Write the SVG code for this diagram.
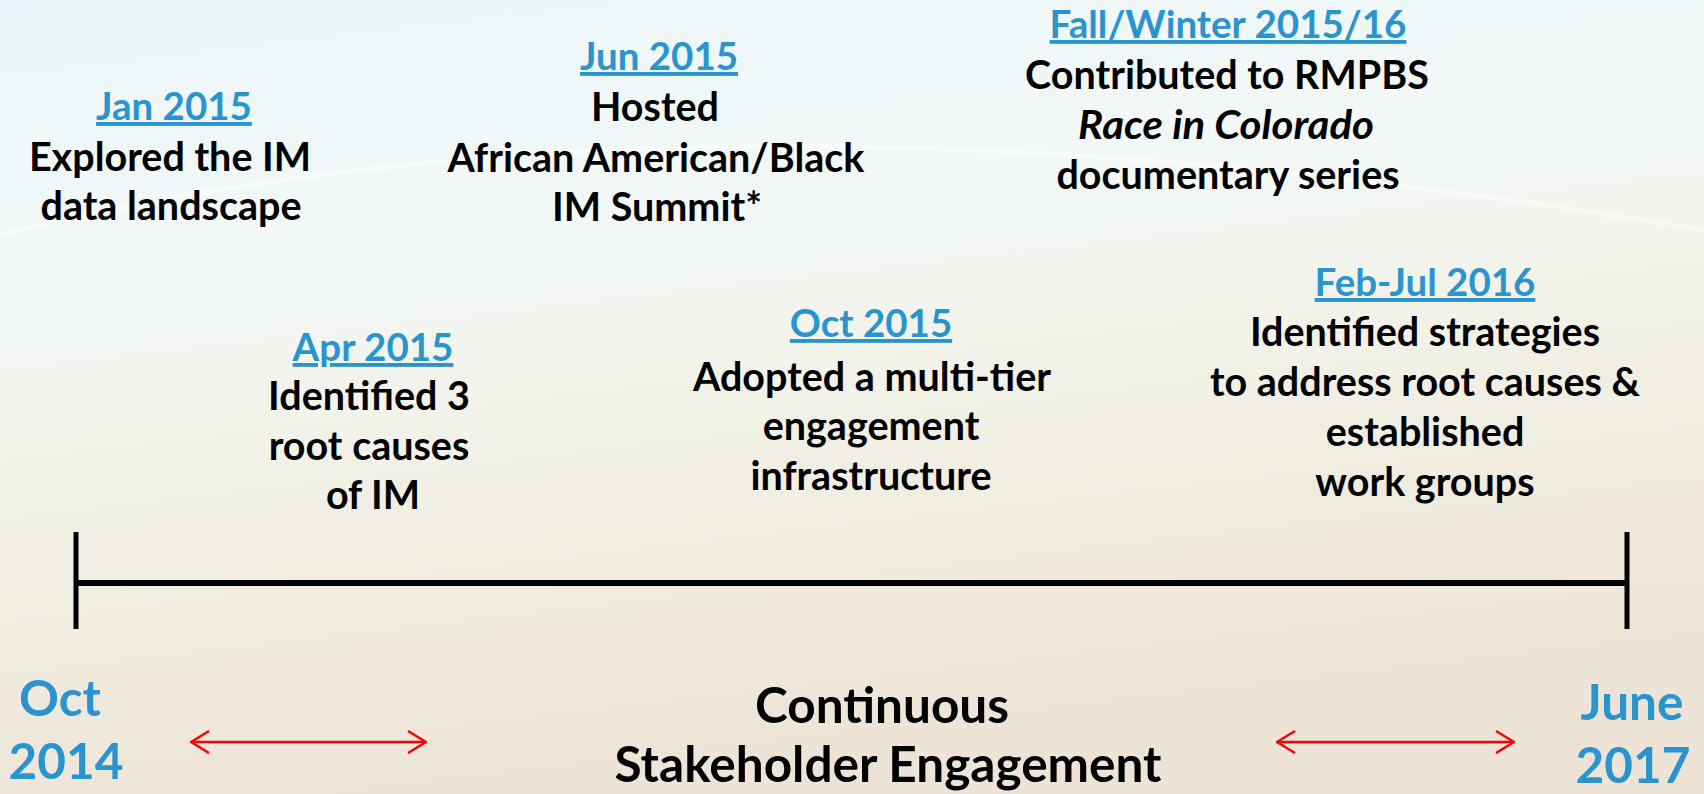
<svg xmlns="http://www.w3.org/2000/svg" width="1704" height="794" viewBox="0 0 1704 794">
  <defs>
    <linearGradient id="bg" x1="0" y1="0" x2="0.25" y2="1">
      <stop offset="0" stop-color="#ECF6FA"/>
      <stop offset="0.35" stop-color="#F3F8F7"/>
      <stop offset="0.6" stop-color="#F2F1E6"/>
      <stop offset="1" stop-color="#EDE4D7"/>
    </linearGradient>
    <marker id="ah" viewBox="0 0 20 24" refX="19" refY="12" markerWidth="20" markerHeight="24" markerUnits="userSpaceOnUse" orient="auto-start-reverse">
      <path d="M1,1 L19,12 L1,23" fill="none" stroke="#FF0000" stroke-width="2.5"/>
    </marker>
    <style>
      .t { font-family: Lato, "Liberation Sans", sans-serif; font-weight: 700; font-size: 39.5px; fill: #000; text-anchor: middle; }
      .d { fill: #2A94CE; text-decoration: underline; font-size: 38.5px; }
      .big { font-family: Lato, "Liberation Sans", sans-serif; font-weight: 700; font-size: 49.5px; text-anchor: middle; }
      .blue { fill: #2A94CE; }
      .axis { stroke: #000; fill: none; }
      .arr { stroke: #FF0000; stroke-width: 2.5; fill: none; marker-start: url(#ah); marker-end: url(#ah); }
    </style>
  </defs>
  <rect width="1704" height="794" fill="url(#bg)"/>
  <path d="M0,235 Q700,60 1704,230" fill="none" stroke="#FFFFFF" stroke-opacity="0.45" stroke-width="5"/>

  <g id="jan2015">
    <text class="t d" x="174" y="120">Jan 2015</text>
    <text class="t" x="170" y="171">Explored the IM</text>
    <text class="t" x="171" y="220">data landscape</text>
  </g>
  <g id="jun2015">
    <text class="t d" x="659" y="70">Jun 2015</text>
    <text class="t" x="655" y="121">Hosted</text>
    <text class="t" x="656" y="172">African American/Black</text>
    <text class="t" x="657" y="221">IM Summit*</text>
  </g>
  <g id="fall2015">
    <text class="t d" x="1228" y="38">Fall/Winter 2015/16</text>
    <text class="t" x="1227" y="89">Contributed to RMPBS</text>
    <text class="t" x="1226" y="139" font-style="italic" textLength="296" lengthAdjust="spacingAndGlyphs">Race in Colorado</text>
    <text class="t" x="1228" y="189">documentary series</text>
  </g>
  <g id="apr2015">
    <text class="t d" x="373" y="361">Apr 2015</text>
    <text class="t" x="369" y="410">Identified 3</text>
    <text class="t" x="369" y="460">root causes</text>
    <text class="t" x="373" y="509">of IM</text>
  </g>
  <g id="oct2015">
    <text class="t d" x="871" y="337">Oct 2015</text>
    <text class="t" x="872" y="391">Adopted a multi-tier</text>
    <text class="t" x="871" y="440">engagement</text>
    <text class="t" x="871" y="490">infrastructure</text>
  </g>
  <g id="feb2016">
    <text class="t d" x="1425" y="296">Feb-Jul 2016</text>
    <text class="t" x="1425" y="346">Identified strategies</text>
    <text class="t" x="1425" y="396">to address root causes &amp;</text>
    <text class="t" x="1425" y="446">established</text>
    <text class="t" x="1425" y="496">work groups</text>
  </g>
  <g id="start">
    <text class="big blue" x="60" y="716">Oct</text>
    <text class="big blue" x="66" y="779">2014</text>
  </g>
  <g id="end">
    <text class="big blue" x="1632" y="720">June</text>
    <text class="big blue" x="1633" y="783">2017</text>
  </g>
  <g id="engagement">
    <text class="big" x="882" y="723">Continuous</text>
    <text class="big" x="888" y="782">Stakeholder Engagement</text>
  </g>
  <g id="connectors">
    <line class="axis" x1="76" y1="583" x2="1627" y2="583" stroke-width="6"/>
    <line class="axis" x1="76" y1="532" x2="76" y2="629" stroke-width="5"/>
    <line class="axis" x1="1627" y1="532" x2="1627" y2="629" stroke-width="5"/>
    <line class="arr" x1="191" y1="742" x2="426" y2="742"/>
    <line class="arr" x1="1277" y1="742" x2="1514" y2="742"/>
  </g>
</svg>
